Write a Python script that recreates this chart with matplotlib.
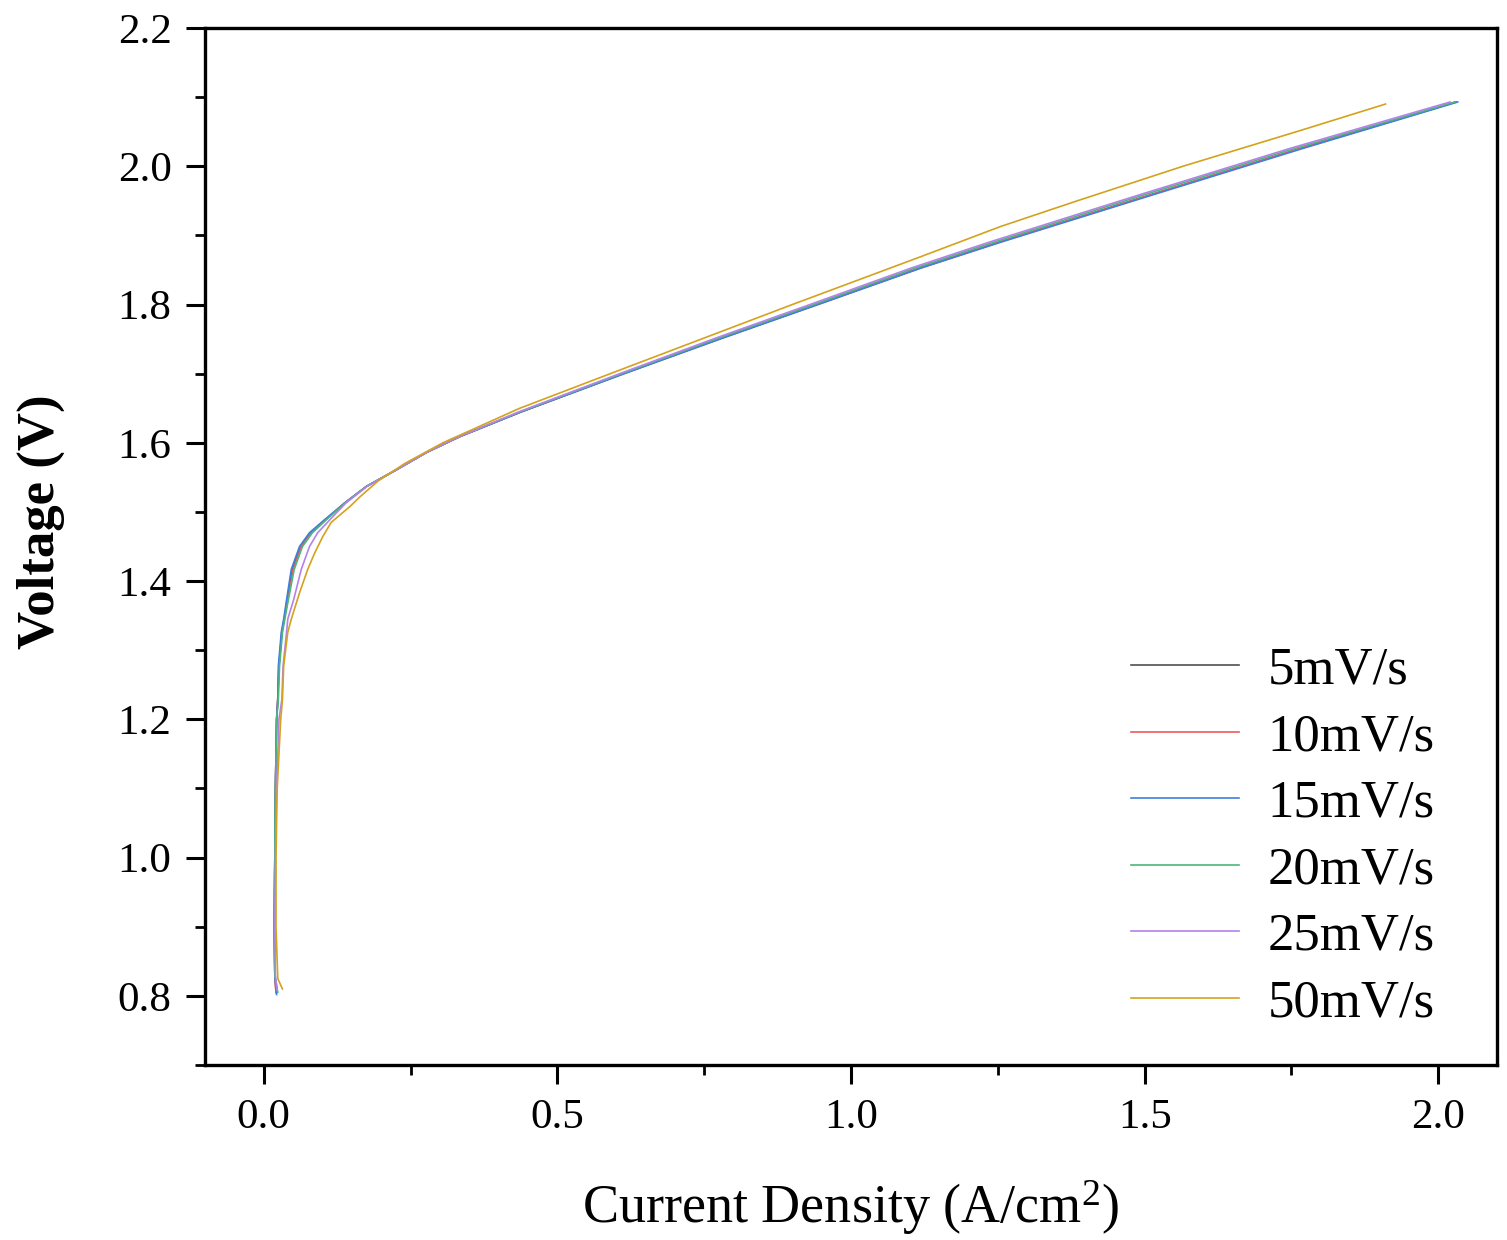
import matplotlib
matplotlib.use("Agg")
import matplotlib.pyplot as plt
from matplotlib.ticker import MultipleLocator

plt.rcParams['font.family'] = ['Liberation Serif', 'DejaVu Serif']
plt.rcParams['mathtext.fontset'] = 'custom'
plt.rcParams['mathtext.rm'] = 'Liberation Serif'
plt.rcParams['mathtext.it'] = 'Liberation Serif:italic'

labels = ['5mV/s', '10mV/s', '15mV/s', '20mV/s', '25mV/s', '50mV/s']
colors = ['#505050', '#F05A5A', '#3F7FE0', '#4DB67A', '#B383EA', '#D4A21C']

v_common = [0.805, 0.83, 0.9, 1.0, 1.1, 1.2, 1.229, 1.277, 1.326, 1.345, 1.373, 1.417, 1.45, 1.47,
            1.489, 1.513, 1.537, 1.561, 1.586, 1.609, 1.644, 1.70, 1.751, 1.80, 1.853, 1.891,
            1.959, 2.026, 2.093]

v_5 = v_common
i_5 = [0.021, 0.019, 0.018, 0.019, 0.020, 0.022, 0.024, 0.026, 0.031, 0.035, 0.040, 0.049, 0.063,
       0.080, 0.105, 0.138, 0.175, 0.226, 0.277, 0.334, 0.436, 0.612, 0.778, 0.942, 1.118, 1.255,
       1.511, 1.766, 2.030]

v_10 = v_common
i_10 = [0.021, 0.019, 0.018, 0.019, 0.020, 0.022, 0.024, 0.026, 0.031, 0.035, 0.041, 0.050, 0.064,
        0.081, 0.106, 0.138, 0.175, 0.226, 0.277, 0.334, 0.436, 0.612, 0.778, 0.942, 1.118, 1.255,
        1.511, 1.766, 2.030]

v_15 = [0.802] + v_common[1:]
i_15 = [0.022, 0.019, 0.018, 0.019, 0.020, 0.022, 0.024, 0.025, 0.030, 0.034, 0.039, 0.047, 0.061,
        0.078, 0.104, 0.138, 0.175, 0.226, 0.277, 0.334, 0.436, 0.614, 0.780, 0.944, 1.120, 1.258,
        1.515, 1.770, 2.033]

v_20 = v_common
i_20 = [0.024, 0.019, 0.018, 0.019, 0.020, 0.022, 0.025, 0.027, 0.032, 0.036, 0.042, 0.052, 0.066,
        0.083, 0.107, 0.139, 0.175, 0.226, 0.277, 0.333, 0.434, 0.609, 0.773, 0.936, 1.110, 1.246,
        1.500, 1.756, 2.028]

v_25 = [0.808] + v_common[1:]
i_25 = [0.023, 0.020, 0.019, 0.020, 0.022, 0.026, 0.031, 0.033, 0.039, 0.041, 0.051, 0.064, 0.078,
        0.092, 0.113, 0.140, 0.176, 0.226, 0.277, 0.333, 0.432, 0.606, 0.768, 0.930, 1.103, 1.238,
        1.492, 1.748, 2.020]

v_50 = [0.810, 0.825, 0.9, 1.0, 1.1, 1.2, 1.229, 1.277, 1.326, 1.345, 1.383, 1.417, 1.441, 1.465,
        1.485, 1.508, 1.522, 1.545, 1.57, 1.60, 1.65, 1.70, 1.75, 1.80, 1.869, 1.913, 1.95, 2.00,
        2.052, 2.090]
i_50 = [0.032, 0.024, 0.021, 0.021, 0.023, 0.029, 0.032, 0.034, 0.041, 0.047, 0.061, 0.075, 0.087,
        0.101, 0.115, 0.147, 0.164, 0.195, 0.240, 0.305, 0.436, 0.590, 0.745, 0.900, 1.118, 1.255,
        1.385, 1.565, 1.766, 1.910]

voltages = [v_5, v_10, v_15, v_20, v_25, v_50]
currents = [i_5, i_10, i_15, i_20, i_25, i_50]

fig = plt.figure(figsize=(15.07, 12.40), dpi=100)
ax = fig.add_axes([0.136, 0.1411, 0.8574, 0.8363])

for v, c, col, lab in zip(voltages, currents, colors, labels):
    ax.plot(c, v, color=col, lw=1.2, label=lab)

ax.set_xlim(-0.1, 2.1)
ax.set_ylim(0.7, 2.2)
ax.xaxis.set_major_locator(MultipleLocator(0.5))
ax.xaxis.set_minor_locator(MultipleLocator(0.25))
ax.yaxis.set_major_locator(MultipleLocator(0.2))
ax.yaxis.set_minor_locator(MultipleLocator(0.1))
ax.xaxis.set_major_formatter(plt.FuncFormatter(lambda x, p: f"{x:.1f}"))
ax.yaxis.set_major_formatter(plt.FuncFormatter(lambda x, p: f"{x:.1f}"))

for s in ax.spines.values():
    s.set_linewidth(2.4)
ax.tick_params(which='major', direction='out', length=14, width=2.2, labelsize=31, pad=10)
ax.tick_params(which='minor', direction='out', length=7, width=2.0)
ax.tick_params(axis='x', which='both', top=False)
ax.tick_params(axis='y', which='both', right=False)

ax.set_xlabel(r'Current Density (A/cm$^{2}$)', fontsize=39, labelpad=30)
ax.set_ylabel('Voltage (V)', fontsize=38, fontweight='bold')
ax.yaxis.set_label_coords(-0.108, 0.524)

leg = ax.legend(loc='lower right', frameon=False, fontsize=38,
                handlelength=2.06, handletextpad=0.53, labelspacing=0.35,
                borderaxespad=0.0, bbox_to_anchor=(0.968, 0.016))

fig.savefig('out.png', dpi=100)
